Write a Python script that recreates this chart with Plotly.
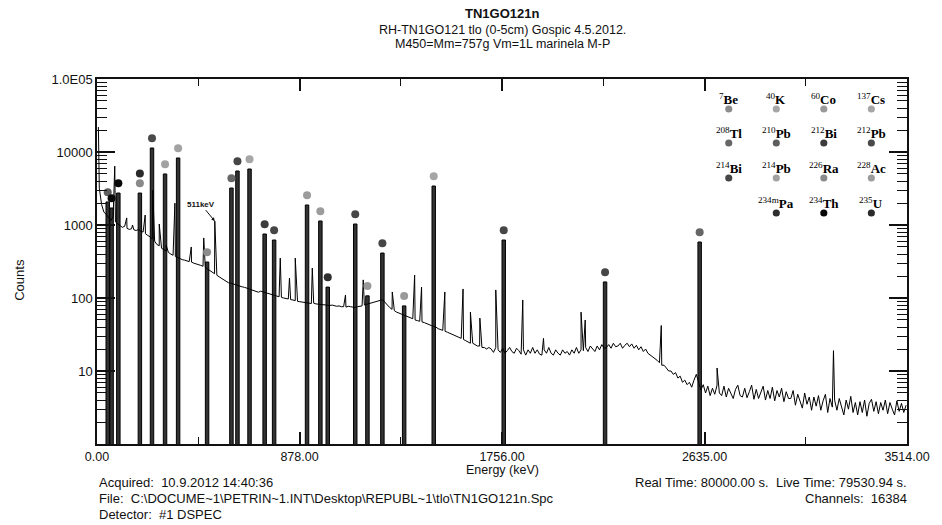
import math
import plotly.graph_objects as go

# ---------------- data ----------------
# continuum of the spectrum, counts read every 10 keV from 10 keV to 3510 keV
spec_energy_keV = list(range(10, 3511, 10))
spec_counts = [
    3200, 1900, 1500, 1400, 1250, 1150, 1300, 1100, 1050, 980,
    930, 960, 900, 870, 890, 860, 840, 870, 820, 800,
    760, 720, 690, 640, 600, 540, 520, 480, 460, 440,
    420, 400, 385, 370, 360, 345, 335, 330, 322, 315,
    310, 300, 295, 285, 280, 272, 262, 250, 238, 225,
    215, 205, 195, 185, 178, 170, 162, 160, 156, 150,
    148, 146, 142, 140, 136, 132, 130, 126, 122, 120,
    124, 121, 118, 116, 112, 110, 108, 106, 104, 102,
    100, 99, 97, 95, 94, 92, 90, 89, 88, 87,
    86, 86, 84, 85, 83, 82, 82, 81, 80, 80,
    79, 80, 78, 77, 78, 76, 76, 75, 77, 76,
    75, 74, 76, 77, 78, 80, 82, 84, 86, 88,
    90, 92, 93, 94, 88, 80, 74, 70, 67, 64,
    62, 60, 58, 56, 55, 53, 52, 50, 49, 48,
    47, 46, 45, 43, 42, 41, 40, 38, 37, 36,
    35, 34, 33, 32, 31, 30, 29, 28, 27, 26,
    25, 24, 24, 23, 22, 22, 21, 21, 20, 21,
    20, 18, 21, 19.5, 18, 20.5, 17.5, 19, 21, 18.5,
    17.5, 20.5, 19, 17, 19.5, 16.5, 19.5, 17.5, 21, 17.5,
    19.5, 17, 16.5, 19.5, 17.5, 21, 17.5, 16.5, 19.5, 17.5,
    16.5, 19.5, 17.5, 18.5, 16.5, 19.5, 17.5, 21, 17.5, 19.5,
    19, 21, 18.5, 22, 20, 18.5, 22, 19.5, 23, 20.5,
    21, 23, 20.5, 24, 21.5, 22, 24, 20.5, 22.5, 24,
    21.5, 23.5, 20.5, 22.5, 19.5, 21.5, 18.5, 20, 17.5, 16.5,
    16, 15, 14, 13, 12, 12, 11, 10, 10, 9,
    9.5, 8, 8.5, 7, 7.5, 6.5, 7, 6, 7.5, 9,
    7, 5.5, 6.5, 5, 6.2, 4.6, 5.8, 4.8, 6.4, 5,
    4.6, 6.2, 4.4, 5.8, 4.8, 4.2, 5.6, 6.4, 4.6, 4.4,
    5.8, 4.3, 5.2, 6.4, 4.1, 5.6, 4.2, 5.2, 6.2, 4,
    5.4, 4.2, 6, 3.9, 5.4, 4.4, 5.8, 3.8, 5.2, 4.2,
    4.2, 5.4, 3.4, 4.8, 3.7, 3.1, 5, 3.5, 4.4, 2.9,
    4.4, 3.3, 4.6, 2.9, 3.9, 4.8, 2.7, 4.2, 3.2, 4,
    2.9, 4.2, 3.1, 2.5, 4, 3, 4.5, 2.7, 3.7, 2.5,
    3.8, 2.7, 4, 2.4, 3.6, 4.1, 2.8, 3.8, 2.6, 3.7,
    2.9, 4, 2.6, 3.7, 3, 2.5, 3.9, 2.8, 3.6, 2.7,
    3.4,
]
# narrow peaks in the spectrum (not marked by bars)
spike_energy_keV = [6, 77, 129, 154, 209, 242, 270, 300, 338, 409, 463, 511,
                    795, 835, 860, 934, 1078, 1155, 1281, 1378, 1408, 1509,
                    1588, 1620, 1661, 1730, 1847, 1937, 2100, 2118, 2448,
                    2690, 3195]
spike_counts = [22000, 6400, 1250, 1000, 1370, 3000, 1030, 530, 1990, 500,
                665, 1130, 352, 188, 352, 257, 110, 177, 121, 206, 141, 121,
                133, 64, 53, 129, 94, 28, 64, 50, 42, 11, 19]

# identified peaks (bars) with their nuclides
peak_energy_keV = [46.5, 63.3, 92.6, 186.0, 238.6, 295.2, 351.9, 477.6, 583.2,
                   609.3, 661.7, 727.3, 768.4, 911.2, 969.0, 1001.0, 1120.3,
                   1173.2, 1238.1, 1332.5, 1460.8, 1764.5, 2204.1, 2614.5]
peak_counts = [2070, 1710, 2740, 2740, 11350, 5000, 8280, 311, 3210, 5490,
               5850, 753, 623, 1880, 1135, 141, 1032, 107, 413, 78, 3420,
               623, 166, 585]
peak_nuclides = ["210Pb", "234Th", "234Th", "226Ra+235U", "212Pb", "214Pb",
                 "214Pb", "7Be", "208Tl", "214Bi", "137Cs", "212Bi", "214Bi",
                 "228Ac", "228Ac", "234mPa", "214Bi", "60Co", "214Bi", "60Co",
                 "40K", "214Bi", "214Bi", "208Tl"]

legend_rows = [["7Be", "40K", "60Co", "137Cs"],
               ["208Tl", "210Pb", "212Bi", "212Pb"],
               ["214Bi", "214Pb", "226Ra", "228Ac"],
               ["", "234mPa", "234Th", "235U"]]

annotated_line_keV = 511
annotated_line_counts = 1130

x_tick_vals = [0, 878.5, 1757, 2635.5, 3514]
x_tick_text = ["0.00", "878.00", "1756.00", "2635.00", "3514.00"]
y_tick_vals = [10, 100, 1000, 10000, 100000]
y_tick_text = ["10", "100", "1000", "10000", "1.0E05"]

# ---------------- style ----------------
nuc_color = {
    "7Be": "#8c8c8c", "40K": "#a6a6a6", "60Co": "#9a9a9a", "137Cs": "#a6a6a6",
    "208Tl": "#666666", "210Pb": "#5e5e5e", "212Bi": "#3c3c3c", "212Pb": "#4a4a4a",
    "214Bi": "#464646", "214Pb": "#a2a2a2", "226Ra": "#8a8a8a", "228Ac": "#9c9c9c",
    "234mPa": "#2e2e2e", "234Th": "#080808", "235U": "#2a2a2a",
}
W, H = 942, 525
L, R, T, B = 97, 915, 79, 444
FONT = "Liberation Sans"
SERIF = "Liberation Serif"


def px(x):
    return (x - L) / (R - L)


def py(y):
    return (B - y) / (B - T)


def nuc_html(n):
    i = 0
    while i < len(n) and n[i].isdigit():
        i += 1
    mass, sym = n[:i], n[i:]
    if sym.startswith("m"):
        mass, sym = mass + "m", sym[1:]
    return f"<sup>{mass}</sup><b>{sym}</b>"


# ---------------- figure ----------------
fig = go.Figure()

line_pts = sorted(list(zip(spec_energy_keV, spec_counts)) +
                  list(zip(spike_energy_keV, spike_counts)))
fig.add_trace(go.Scatter(
    x=[p[0] for p in line_pts], y=[p[1] for p in line_pts],
    mode="lines", line=dict(color="#000000", width=1), hoverinfo="skip"))

fig.add_trace(go.Bar(
    x=peak_energy_keV, y=peak_counts, width=15,
    marker=dict(color="#333333", line=dict(color="#000000", width=1))))

dot_x, dot_y, dot_c = [], [], []
for e, c, nucs in zip(peak_energy_keV, peak_counts, peak_nuclides):
    for k, n in enumerate(nucs.split("+")):
        dot_x.append(e)
        dot_y.append(c * 10 ** ((k + 1) * 9.8 / (B - T) * 5))
        dot_c.append(nuc_color[n])
fig.add_trace(go.Scatter(x=dot_x, y=dot_y, mode="markers",
                         marker=dict(size=8, color=dot_c), hoverinfo="skip"))

ann = []
shapes = []
# legend grid
col_x = [735, 783, 831, 879]
row_label_y = [99, 133, 168, 203]
row_dot_y = [109, 143, 178, 213]
for r, row in enumerate(legend_rows):
    for c, n in enumerate(row):
        if not n:
            continue
        ann.append(dict(x=px(col_x[c]), y=py(row_label_y[r]), xref="paper", yref="paper",
                        text=nuc_html(n), showarrow=False, xanchor="center", yanchor="middle",
                        font=dict(family=SERIF, size=13, color="#000")))
        rx, ry = 3.6 / (R - L), 3.6 / (B - T)
        cx, cy = px(col_x[c]), py(row_dot_y[r])
        shapes.append(dict(type="circle", xref="paper", yref="paper",
                           x0=cx - rx, x1=cx + rx, y0=cy - ry, y1=cy + ry,
                           fillcolor=nuc_color[n], line=dict(width=0)))

# titles
for txt, yy, sz in [("<b>TN1GO121n</b>", 14, 13),
                    ("RH-TN1GO121 tlo (0-5cm) Gospic 4.5.2012.", 30, 12.5),
                    ("M450=Mm=757g Vm=1L marinela M-P", 44, 12.5)]:
    ann.append(dict(x=px(506), y=py(yy), xref="paper", yref="paper", text=txt,
                    showarrow=False, xanchor="center", yanchor="middle",
                    font=dict(family=FONT, size=sz, color="#111")))

NB = "\u00a0"
bottom_left = ["Acquired:" + NB * 2 + "10.9.2012 14:40:36",
               "File:" + NB * 2 + "C:\\DOCUME~1\\PETRIN~1.INT\\Desktop\\REPUBL~1\\tlo\\TN1GO121n.Spc",
               "Detector:" + NB * 2 + "#1 DSPEC"]
bottom_right = ["Real Time: 80000.00 s." + NB * 2 + "Live Time: 79530.94 s.",
                "Channels:" + NB * 2 + "16384"]
for i, t in enumerate(bottom_left):
    ann.append(dict(x=px(97), y=py(482 + 16 * i), xref="paper", yref="paper", text=t,
                    showarrow=False, xanchor="left", yanchor="middle",
                    font=dict(family=FONT, size=13, color="#111")))
for i, t in enumerate(bottom_right):
    ann.append(dict(x=px(917), y=py(482 + 16 * i), xref="paper", yref="paper", text=t,
                    showarrow=False, xanchor="right", yanchor="middle",
                    font=dict(family=FONT, size=13, color="#111")))

ann.append(dict(x=px(506), y=py(470), xref="paper", yref="paper", text="Energy (keV)",
                showarrow=False, xanchor="center", yanchor="middle",
                font=dict(family=FONT, size=12.5, color="#111")))
ann.append(dict(x=px(18), y=py(280), xref="paper", yref="paper", text="Counts",
                showarrow=False, xanchor="center", yanchor="middle", textangle=-90,
                font=dict(family=FONT, size=13, color="#111")))

# 511 keV annotation (log axis -> annotation y in log10 units)
ann.append(dict(x=annotated_line_keV, y=math.log10(annotated_line_counts),
                xref="x", yref="y", text="<b>511keV</b>",
                showarrow=True, arrowhead=2, arrowsize=0.7, arrowwidth=1,
                arrowcolor="#111", ax=-14, ay=-17,
                font=dict(family=FONT, size=8, color="#111")))

y_minor = [d * 10 ** k for k in range(0, 5) for d in range(2, 10)]
x_minor = [439.25, 1317.75, 2196.25, 3074.75]

fig.update_layout(
    width=W, height=H,
    margin=dict(l=L, r=W - R, t=T, b=H - B, pad=0),
    paper_bgcolor="white", plot_bgcolor="white",
    showlegend=False, barmode="overlay",
    annotations=ann, shapes=shapes,
    font=dict(family=FONT, size=12, color="#111"),
)
fig.update_xaxes(
    range=[0, 3514], showgrid=False, zeroline=False,
    showline=True, linecolor="#111", linewidth=1.5, mirror="ticks",
    tickmode="array", tickvals=x_tick_vals, ticktext=x_tick_text,
    ticks="inside", ticklen=12, tickwidth=1.5, tickcolor="#111",
    tickfont=dict(family=FONT, size=12.5, color="#111"),
    minor=dict(tickmode="array", tickvals=x_minor, ticks="inside",
               ticklen=7, tickwidth=1.2, tickcolor="#111"),
)
fig.update_yaxes(
    type="log", range=[0, 5], showgrid=False, zeroline=False,
    showline=True, linecolor="#111", linewidth=1.5, mirror="ticks",
    tickmode="array", tickvals=y_tick_vals, ticktext=y_tick_text,
    ticks="inside", ticklen=18, tickwidth=1.5, tickcolor="#111",
    tickfont=dict(family=FONT, size=13, color="#111"),
    minor=dict(tickmode="array", tickvals=y_minor, ticks="inside",
               ticklen=10, tickwidth=1.2, tickcolor="#111"),
)

fig.write_html("out.html", config={"displayModeBar": False},
               post_script="document.body.style.margin='0';document.body.style.overflow='hidden';")
